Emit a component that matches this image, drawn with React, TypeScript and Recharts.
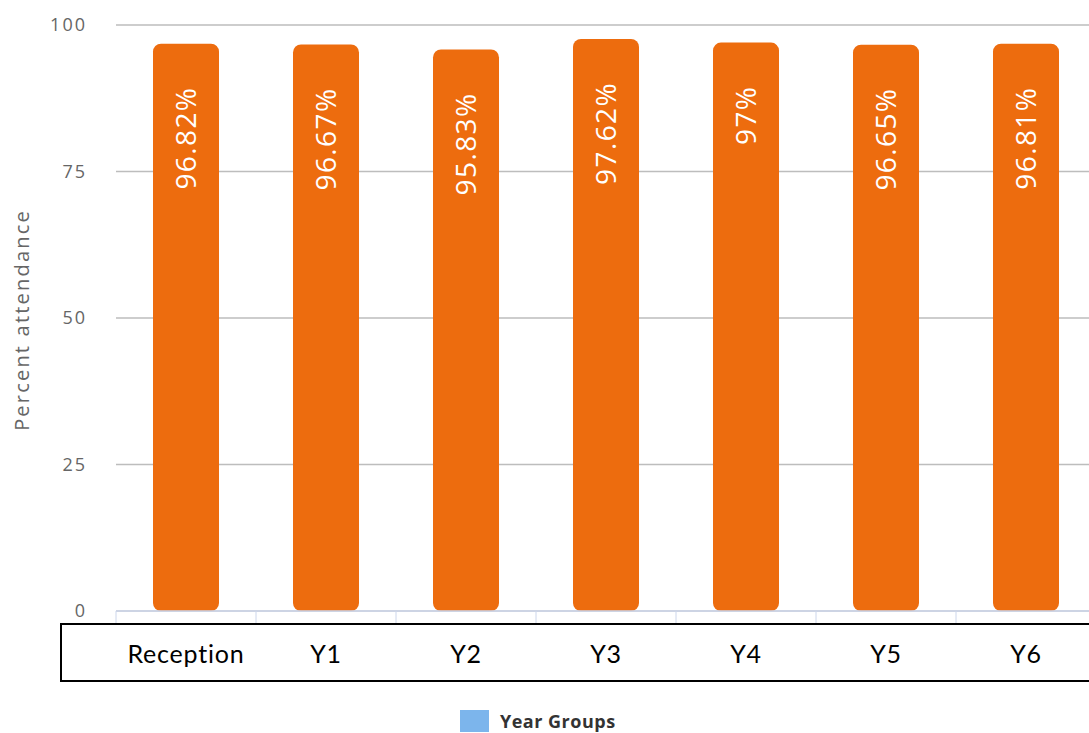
import React from 'react';
import { BarChart, Bar, XAxis, YAxis, CartesianGrid, LabelList, Legend } from 'recharts';

const categories = ['Reception', 'Y1', 'Y2', 'Y3', 'Y4', 'Y5', 'Y6'];
const attendance = [96.82, 96.67, 95.83, 97.62, 97, 96.65, 96.81];
const valueLabels = ['96.82%', '96.67%', '95.83%', '97.62%', '97%', '96.65%', '96.81%'];
const yTicks = [0, 25, 50, 75, 100];
const seriesName = 'Year Groups';
const axisTitle = 'Percent attendance';

const data = categories.map((c, i) => ({ name: c, value: attendance[i], label: valueLabels[i] }));

const BAR_COLOR = '#ed6c0e';
const LEGEND_COLOR = '#7cb5ec';

const XTick = (props: any) => {
  const { x, y, payload, index } = props;
  const half = payload && payload.offset ? payload.offset : 70;
  const last = index === categories.length - 1;
  return (
    <g>
      {index === 0 && (
        <rect x={61} y={y + 13} width={1100} height={57} fill="#fff" stroke="#000" strokeWidth={2} />
      )}
      <line x1={x - half} x2={x - half} y1={y} y2={y + 12} stroke="#ccd6eb" strokeWidth={1} />
      {last && <line x1={x + half} x2={x + half} y1={y} y2={y + 12} stroke="#ccd6eb" strokeWidth={1} />}
      <text
        x={x}
        y={y + 52}
        textAnchor="middle"
        fill="#000"
        fontFamily="Lato, 'Open Sans', sans-serif"
        fontSize={25}
        letterSpacing={0.8}
      >
        {payload.value}
      </text>
    </g>
  );
};

const BarLabel = (props: any) => {
  const { x, y, width, value } = props;
  const cx = x + width / 2;
  const ty = y + 43;
  return (
    <text
      x={cx}
      y={ty + 10}
      transform={`rotate(-90 ${cx} ${ty})`}
      textAnchor="end"
      fill="#fff"
      fontFamily="'Open Sans', sans-serif"
      fontSize={28}
      letterSpacing={1.4}
    >
      {value}
    </text>
  );
};

const YTitle = (props: any) => {
  const vb = props.viewBox || { x: 0, y: 25, width: 116, height: 586 };
  const cx = vb.x + 21;
  const cy = vb.y + vb.height / 2 + 2;
  return (
    <text
      x={cx}
      y={cy}
      transform={`rotate(-90 ${cx} ${cy})`}
      textAnchor="middle"
      dominantBaseline="central"
      fill="#666"
      fontFamily="'Open Sans', sans-serif"
      fontSize={20}
      letterSpacing={2.2}
    >
      {axisTitle}
    </text>
  );
};

const LegendContent = () => (
  <div
    style={{
      height: 40,
      boxSizing: 'border-box',
      paddingTop: 17,
      paddingLeft: 460,
      display: 'flex',
      alignItems: 'flex-start',
    }}
  >
    <span style={{ display: 'inline-block', width: 29, height: 22, background: LEGEND_COLOR, marginRight: 11 }} />
    <span
      style={{
        fontFamily: "'Open Sans', sans-serif",
        fontWeight: 700,
        fontSize: 18,
        color: '#333',
        letterSpacing: 0.5,
        lineHeight: '22px',
      }}
    >
      {seriesName}
    </span>
  </div>
);

export default function App() {
  return (
    <div style={{ position: 'absolute', left: 0, top: 0, width: 1089, height: 733, overflow: 'hidden', background: '#fff' }}>
      <BarChart width={1100} height={733} data={data} margin={{ top: 25, right: 4, bottom: 0, left: 0 }}>
        <CartesianGrid horizontal vertical={false} stroke="#bdbdbd" strokeWidth={1.5} />
        <XAxis
          dataKey="name"
          height={82}
          axisLine={{ stroke: '#ccd6eb', strokeWidth: 1.5 }}
          tickLine={false}
          tickSize={0}
          tickMargin={0}
          tick={<XTick />}
          interval={0}
        />
        <YAxis
          width={116}
          domain={[0, 100]}
          ticks={yTicks}
          axisLine={false}
          tickLine={false}
          tickSize={0}
          tickMargin={29}
          tick={{ fill: '#666', fontSize: 18, fontFamily: "'Open Sans', sans-serif", letterSpacing: 2 }}
          label={<YTitle />}
        />
        <Legend verticalAlign="bottom" align="left" content={<LegendContent />} wrapperStyle={{ height: 40 }} />
        <Bar dataKey="value" name={seriesName} fill={BAR_COLOR} barSize={66} radius={[8, 8, 8, 8]} isAnimationActive={false}>
          <LabelList dataKey="label" content={<BarLabel />} />
        </Bar>
      </BarChart>
    </div>
  );
}
